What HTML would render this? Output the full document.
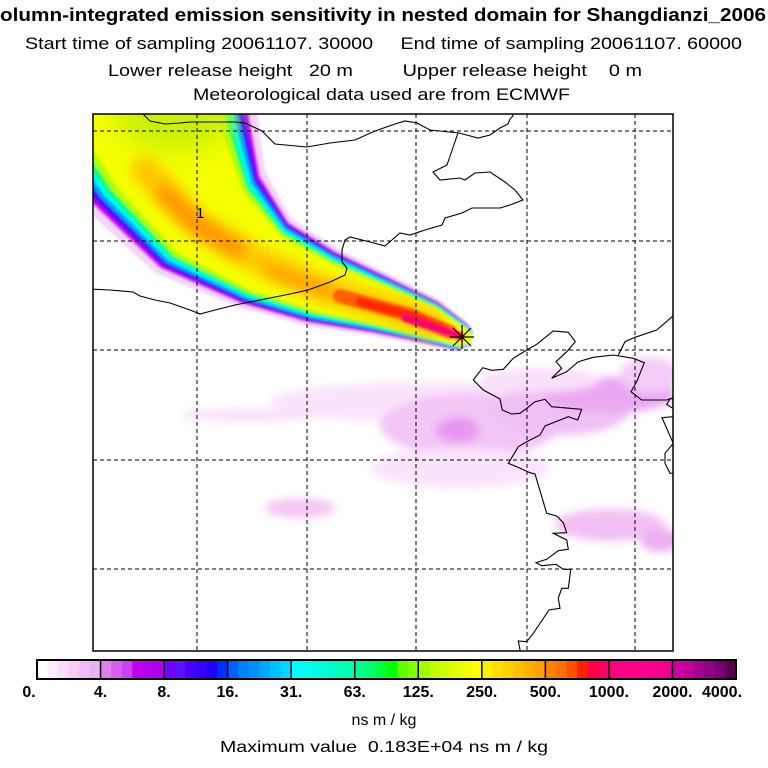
<!DOCTYPE html>
<html><head><meta charset="utf-8"><style>
html,body{margin:0;padding:0;background:#fff;}
svg{display:block;}
text{font-family:"Liberation Sans",sans-serif;white-space:pre;}
</style></head><body>
<svg id="chart" width="768" height="768" viewBox="0 0 768 768" xml:space="preserve">
<defs>
<clipPath id="frame"><rect x="93" y="114" width="580" height="537"/></clipPath>
<filter id="blur" x="-50%" y="-50%" width="200%" height="200%"><feGaussianBlur stdDeviation="4"/></filter>
<filter id="blur2" x="-20%" y="-20%" width="140%" height="140%"><feGaussianBlur stdDeviation="1.2"/></filter>
<filter id="blur3" x="-50%" y="-50%" width="200%" height="200%"><feGaussianBlur stdDeviation="12"/></filter>
<filter id="blur4" x="-50%" y="-50%" width="200%" height="200%"><feGaussianBlur stdDeviation="6"/></filter>
</defs>
<g>
<text x="0" y="21" font-size="18" font-weight="bold" textLength="766" lengthAdjust="spacingAndGlyphs">olumn-integrated emission sensitivity in nested domain for Shangdianzi_2006</text>
<text x="25" y="49" font-size="17" textLength="717" lengthAdjust="spacingAndGlyphs">Start time of sampling 20061107. 30000     End time of sampling 20061107. 60000</text>
<text x="108" y="76" font-size="17" textLength="534" lengthAdjust="spacingAndGlyphs">Lower release height   20 m         Upper release height    0 m</text>
<text x="193" y="100" font-size="17" textLength="377" lengthAdjust="spacingAndGlyphs">Meteorological data used are from ECMWF</text>
</g>
<g id="map" clip-path="url(#frame)">
<g id="haze" filter="url(#blur)"></g>
<g id="plume" filter="url(#blur2)"></g>
<g id="core" filter="url(#blur4)"></g>
<g id="peak" filter="url(#blur2)"></g>
<g id="coast" fill="none" stroke="#000" stroke-width="1.1">
<path d="M143,114 L150,121 165,124 180,123 190,122 235,122 245,123 262,131 275,144 307,147 330,143 355,140 375,131 395,124 405,121 417,123 430,130 440,131 459,133 478,138 490,135 500,128 508,124 510,119 513,116 512,112"/>
<path d="M458,133 L447,165 437,170 433,172 440,180 460,178 465,180 475,173 490,172 505,182 515,190 523,200 510,205 500,208 472,208 462,213 445,218 442,225 425,230 410,235 400,233 385,246 370,242 350,237 345,240 342,250 342,262 347,268 345,275 330,282 308,290 290,294 270,298 235,305 215,310 200,314 190,310 170,303 155,300 140,296 133,292 110,290 90,289"/>
<path id="lineC" d=""/>
</g>
<g id="grid" stroke="#000" stroke-width="1" stroke-dasharray="4,3"></g>
<g stroke="#000" stroke-width="1.2">
<line x1="450" y1="337" x2="474" y2="337"/><line x1="462" y1="325" x2="462" y2="349"/>
<line x1="453" y1="328" x2="471" y2="346"/><line x1="453" y1="346" x2="471" y2="328"/>
</g>
<text x="196" y="218" font-size="15">1</text>
</g>
<rect x="93" y="114" width="580" height="537" fill="none" stroke="#000" stroke-width="1.5"/>
<g id="cbar"></g>
<text x="384" y="725" font-size="16" text-anchor="middle">ns m / kg</text>
<text x="220" y="752" font-size="16" textLength="328" lengthAdjust="spacingAndGlyphs">Maximum value  0.183E+04 ns m / kg</text>
</svg>
<script>
const NS='http://www.w3.org/2000/svg';
const levelLabels=['0.','4.','8.','16.','31.','63.','125.','250.','500.','1000.','2000.','4000.'];
const levelShades=[
['#ffffff','#fcebfc','#f9dcf9','#f5cdf7','#f0bcf5','#e9b0f2'],
['#e080f0','#d860f0','#cc40f0','#c000f0','#b800f0','#b000f0'],
['#7000ff','#6010ff','#4c00ff','#3800ff','#2000ff','#0030ff'],
['#0060ff','#0080ff','#0090ff','#00a8ff','#00c0ff','#00d8ff'],
['#00ffff','#00ffee','#00ffe0','#00ffd0','#00ffc0','#00ffb0'],
['#00ff90','#00ff70','#00ff40','#00ff00','#60ff00','#80ff00'],
['#a0ff00','#c0ff00','#d0ff00','#e0ff00','#f0ff00','#ffff00'],
['#ffee00','#ffe000','#ffd000','#ffc000','#ffb000','#ffa000'],
['#ff8000','#ff7000','#ff5000','#ff2000','#ff0040','#ff0060'],
['#ff0080','#ff0088','#ff0088','#ff0090','#f80090','#f00090'],
['#d000a0','#c00098','#a80090','#900080','#780070','#580050']];
const gridLon=[197,307,416,527,635];
const gridLat=[131,241,350,460,569];
const plumeX=[140,170,210,265,322,380,430,462,472];
const plumeY=[90,160,222,263,287,305,322,337,339];
const plumeHW=[110,90,68,47,38,29,22,14,6];
const hazeBlobs=[
[420,402,150,20,'#fbe4fb'],[250,415,70,6,'#fae0fa'],[470,425,90,32,'#f3c6f6'],[458,430,22,13,'#e898f0'],
[560,410,70,25,'#f0c0f5'],[610,395,65,18,'#eaa8f2'],[650,375,30,18,'#f5ccf8'],[460,468,90,20,'#fbe4fb'],
[300,508,35,10,'#f5c8f5'],[610,525,55,16,'#f3c0f5'],[660,540,20,12,'#eeb0f3'],[540,380,60,12,'#fae0fa']];
const cbX0=37,cbX1=736,cbY=660,cbH=19;
const cb=document.getElementById('cbar');
const segW=(cbX1-cbX0)/levelShades.length;
levelShades.forEach((sh,i)=>{sh.forEach((c,j)=>{
 const r=document.createElementNS(NS,'rect');
 r.setAttribute('x',cbX0+i*segW+j*segW/sh.length);r.setAttribute('y',cbY);
 r.setAttribute('width',segW/sh.length+0.6);r.setAttribute('height',cbH);r.setAttribute('fill',c);
 
 
 cb.appendChild(r);});});
levelLabels.forEach((l,i)=>{
 const x=cbX0+i*segW;
 if(i>0&&i<levelLabels.length-1){const ln=document.createElementNS(NS,'line');
 ln.setAttribute('x1',x);ln.setAttribute('x2',x);ln.setAttribute('y1',cbY);ln.setAttribute('y2',cbY+cbH);ln.setAttribute('stroke','#000');ln.setAttribute('stroke-width','1.5');
 
 
 cb.appendChild(ln);}
 const t=document.createElementNS(NS,'text');
 t.setAttribute('x',i==0?x-8:(i==levelLabels.length-1?x-14:x));t.setAttribute('y',697);t.setAttribute('font-size','16');t.setAttribute('font-weight','bold');t.setAttribute('text-anchor','middle');
 t.textContent=l;
 
 
 cb.appendChild(t);});
const fr=document.createElementNS(NS,'rect');
fr.setAttribute('x',cbX0);fr.setAttribute('y',cbY);fr.setAttribute('width',cbX1-cbX0);fr.setAttribute('height',cbH);fr.setAttribute('fill','none');fr.setAttribute('stroke','#000');fr.setAttribute('stroke-width','2');


cb.appendChild(fr);
const grid=document.getElementById('grid');
gridLon.forEach(x=>{const l=document.createElementNS(NS,'line');l.setAttribute('x1',x);l.setAttribute('x2',x);l.setAttribute('y1',114);l.setAttribute('y2',651);
 
 
 grid.appendChild(l);});
gridLat.forEach(y=>{const l=document.createElementNS(NS,'line');l.setAttribute('x1',93);l.setAttribute('x2',673);l.setAttribute('y1',y);l.setAttribute('y2',y);
 
 
 grid.appendChild(l);});
const haze=document.getElementById('haze');
hazeBlobs.forEach(b=>{const e=document.createElementNS(NS,'ellipse');e.setAttribute('cx',b[0]);e.setAttribute('cy',b[1]);e.setAttribute('rx',b[2]);e.setAttribute('ry',b[3]);e.setAttribute('fill',b[4]);
 
 
 haze.appendChild(e);});
function plumePoly(f,skewLow){
 const up=[],lo=[];const n=plumeX.length;
 for(let i=0;i<n;i++){const a=Math.max(0,i-1),b=Math.min(n-1,i+1);
  let dx=plumeX[b]-plumeX[a],dy=plumeY[b]-plumeY[a];const L=Math.hypot(dx,dy);dx/=L;dy/=L;
  const nx=dy,ny=-dx;const h=plumeHW[i]*f;
  up.push((plumeX[i]+nx*h*(1-skewLow))+','+(plumeY[i]+ny*h*(1-skewLow)));
  lo.push((plumeX[i]-nx*h*(1+skewLow))+','+(plumeY[i]-ny*h*(1+skewLow)));}
 return up.concat(lo.reverse()).join(' ');}
const plume=document.getElementById('plume');
const layers=[[1.1,'#f4d4f8',0],[1.0,'#c800f0',0],[0.94,'#3010ff',0],[0.88,'#00a0ff',0],[0.83,'#00ffee',0],[0.78,'#00ff70',0],[0.73,'#b0ff00',0],[0.66,'#f4ff00',0]];
layers.forEach(L=>{const p=document.createElementNS(NS,'polygon');p.setAttribute('points',plumePoly(L[0],L[2]));p.setAttribute('fill',L[1]);
 
 
 plume.appendChild(p);});
const cap=document.createElementNS(NS,'ellipse');
cap.setAttribute('cx',175);cap.setAttribute('cy',112);cap.setAttribute('rx',60);cap.setAttribute('ry',40);cap.setAttribute('fill','#ccf000');cap.setAttribute('filter','url(#blur3)');


plume.appendChild(cap);
const core=document.getElementById('core');
[['M145,170 L195,222 250,256 320,288 400,312 430,324','#ffc800',28],['M165,195 L200,228 235,248','#ff9a00',22],['M270,272 L330,292','#ffa000',14]].forEach(s=>{
 const p=document.createElementNS(NS,'path');p.setAttribute('d',s[0]);p.setAttribute('stroke',s[1]);p.setAttribute('stroke-width',s[2]);p.setAttribute('fill','none');p.setAttribute('stroke-linecap','round');p.setAttribute('stroke-linejoin','round');
 
 
 core.appendChild(p);});
const peak=document.getElementById('peak');
[['M340,296 L410,315 450,332','#ff6000',14],['M360,302 L410,315 445,330','#ff2800',9],['M405,318 L460,336','#ff0070',8]].forEach(s=>{
 const p=document.createElementNS(NS,'path');p.setAttribute('d',s[0]);p.setAttribute('stroke',s[1]);p.setAttribute('stroke-width',s[2]);p.setAttribute('fill','none');p.setAttribute('stroke-linecap','round');
 
 
 peak.appendChild(p);});
const cPts=[[672,292],[650,300],[630,300],[600,300],[575,300],[543,275],[560,245],[583,188],[550,175],[490,165],[430,172],[385,185],[350,215],[305,235],[335,205],[318,185],[350,155],[376,125],[355,97],[310,93],[260,133],[230,150],[190,175],[160,208],[125,211],[98,203],[70,240],[100,270],[150,297],[157,330],[185,342],[210,340],[230,325],[255,305],[285,298],[305,320],[395,328],[383,360],[355,350],[330,360],[285,378],[270,405],[230,425],[205,440],[175,490],[200,500],[240,518],[255,522],[290,640],[320,648],[340,668],[350,698],[310,700],[350,720],[355,748],[325,752],[290,778],[258,788],[275,797],[318,793],[340,808],[362,808],[355,865],[335,865],[325,895],[330,925],[297,930],[250,1000],[230,1025],[205,1023],[212,1060]];
const cEl=document.getElementById('lineC');
cEl.setAttribute('d','M'+cPts.map(p=>(450+p[0]/3).toFixed(1)+','+(300+p[1]/3).toFixed(1)).join(' L'));
const extra=[[[505,165],[525,125],[555,112],[620,90],[690,30]],[[690,292],[660,297],[650,313],[668,325],[690,348],[636,353],[670,430],[645,460],[645,490],[660,520],[690,518]]];
const coast=document.getElementById('coast');
extra.forEach(pts=>{const p=document.createElementNS(NS,'path');p.setAttribute('d','M'+pts.map(q=>(450+q[0]/3).toFixed(1)+','+(300+q[1]/3).toFixed(1)).join(' L'));
 
 
 coast.appendChild(p);});
</script>
</body></html>
